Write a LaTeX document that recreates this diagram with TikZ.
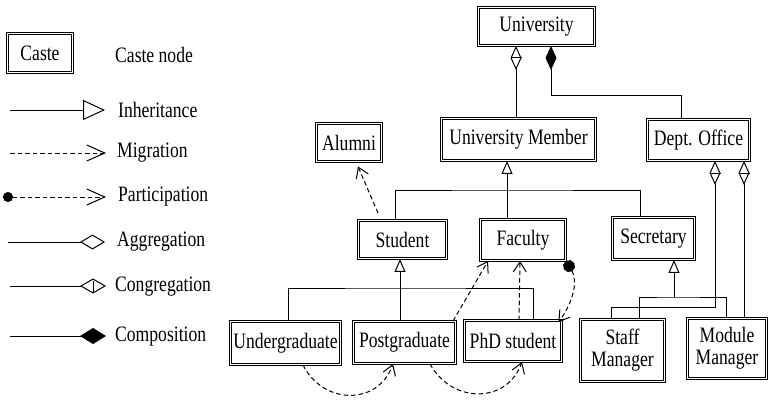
\documentclass[tikz,border=0pt]{standalone}
\usepackage{fontspec}
\setmainfont{Liberation Serif}[FakeStretch=0.8]
\usetikzlibrary{arrows.meta}

\begin{document}
\begin{tikzpicture}[x=1pt,y=-1pt,
  every node/.style={font=\fontsize{22}{22}\selectfont},
  caste/.style={draw, double, double distance=1.3pt, line width=0.9pt,
    inner sep=0pt, align=center},
  lbl/.style={anchor=west, inner sep=0pt},
  link/.style={line width=1pt},
  mig/.style={line width=1pt, dash pattern=on 4.5pt off 3pt},
  inh/.style={-{Triangle[open,length=13pt,width=11pt]}},
  cong/.style={{Diamond[open,length=24pt,width=11pt]}-},
  comp/.style={{Diamond[length=24pt,width=11pt]}-},
  migtip/.style={-{Straight Barb[length=10pt,width=13pt]}},
  cbar/.pic={\draw[line width=1pt] (-5.5,0) -- (5.5,0);},
]
\useasboundingbox (0,0) rectangle (768,399);
\fill[white] (0,0) rectangle (768,399);

% ---------- legend ----------
\node[caste, minimum width=65pt, minimum height=39pt] (legcaste) at (40,53) {Caste};
\node[lbl] (legcastetxt) at (115,55) {Caste node};

\coordinate (li1) at (10,110);  \coordinate (li2) at (105,110);
\draw[link, -{Triangle[open,length=22pt,width=20pt]}] (li1) -- (li2);
\node[lbl] (leginh) at (118,110) {Inheritance};

\coordinate (lm1) at (10,153);  \coordinate (lm2) at (106,153);
\draw[mig, -{Straight Barb[length=18pt,width=16pt]}] (lm1) -- (lm2);
\node[lbl] (legmig) at (117,153) {Migration};

\coordinate (lp1) at (3,197);  \coordinate (lp2) at (106,197);
\draw[mig, {Circle[length=10pt]}-{Straight Barb[length=18pt,width=16pt]}] (lp1) -- (lp2);
\node[lbl] (legpart) at (118,197) {Participation};

\coordinate (la1) at (8,242);  \coordinate (la2) at (105,242);
\draw[link, -{Diamond[open,length=25pt,width=15pt]}] (la1) -- (la2);
\node[lbl] (legagg) at (117,242) {Aggregation};

\coordinate (lc1) at (10,286);  \coordinate (lc2) at (106,286);
\draw[link, -{Diamond[open,length=26pt,width=15pt]}] (lc1) -- (lc2);
\pic[rotate=90] at (93,286) {cbar};
\node[lbl] (legcong) at (115,287) {Congregation};

\coordinate (lo1) at (10,336);  \coordinate (lo2) at (106,336);
\draw[link, -{Diamond[length=26pt,width=16pt]}] (lo1) -- (lo2);
\node[lbl] (legcomp) at (115,337) {Composition};

% ---------- castes ----------
\node[caste, minimum width=116pt, minimum height=38pt] (university) at (536.5,26.5) {University};
\node[caste, minimum width=154pt, minimum height=42pt] (member) at (518.5,139.5) {University Member};
\node[caste, minimum width=65pt, minimum height=38pt] (alumni) at (349,142.5) {Alumni};
\node[caste, minimum width=102pt, minimum height=41pt] (dept) at (698.5,140) {Dept. Office};
\node[caste, minimum width=88pt, minimum height=38pt] (student) at (402.5,239.5) {Student};
\node[caste, minimum width=85pt, minimum height=41pt] (faculty) at (523,240) {Faculty};
\node[caste, minimum width=82pt, minimum height=42pt] (secretary) at (653.5,238.5) {Secretary};
\node[caste, minimum width=110pt, minimum height=43pt] (under) at (285.5,343) {Undergraduate};
\node[caste, minimum width=102pt, minimum height=42pt] (post) at (404.5,342.5) {Postgraduate};
\node[caste, minimum width=97pt, minimum height=41pt] (phd) at (513,341) {PhD student};
\node[caste, minimum width=84pt, minimum height=62pt] (staff) at (622.5,350.5) {Staff\\Manager};
\node[caste, minimum width=79pt, minimum height=60pt] (module) at (727,348.5) {Module\\Manager};

% ---------- university level ----------
\draw[link, cong] ([xshift=-20.5pt]university.south) -- ([xshift=-2.5pt]member.north);
\pic at ([xshift=-20.5pt,yshift=-12pt]university.south) {cbar};
\draw[link, comp] ([xshift=14.5pt]university.south) -- ++(0,50) -| ([xshift=-17.5pt]dept.north);

% ---------- members ----------
\coordinate (busM) at (507,190);
\draw[link, inh] ([xshift=-16pt]faculty.north) -- ([xshift=-11.5pt]member.south);
\draw[link] ([xshift=-7.5pt]student.north) |- (busM) -| ([xshift=-13.5pt]secretary.north);
\draw[mig, migtip] ([xshift=-24.5pt,yshift=7pt]student.north) -- ([xshift=9pt,yshift=-4.5pt]alumni.south);

% ---------- students ----------
\coordinate (busS) at (400,288);
\draw[link, inh] ([xshift=-4.5pt]post.north) -- ([xshift=-2.5pt]student.south);
\draw[link] ([xshift=2.5pt]under.north) |- (busS) -| ([xshift=20pt]phd.north);

\draw[mig, migtip] ([xshift=48.5pt]post.north) -- ([xshift=-35pt]faculty.south);
\draw[mig, migtip] ([xshift=6pt]phd.north) -- ([xshift=-3pt]faculty.south);
\draw[mig, {Circle[length=12pt]}-{Straight Barb[length=10pt,width=13pt]}]
  (faculty.south east) .. controls +(12,20) and +(15,-20) .. ([xshift=-3.5pt,yshift=-2pt]phd.north east);

\draw[mig, migtip] ([xshift=17.5pt]under.south) .. controls +(20,40) and +(-15,42) .. ([xshift=-11.5pt]post.south);
\draw[mig, migtip] ([xshift=25.5pt]post.south) .. controls +(22,40) and +(-15,42) .. ([xshift=9pt]phd.south);

% ---------- office staff ----------
\coordinate (busT) at (674,297);
\draw[link, inh] (busT) -- ([xshift=20.5pt]secretary.south);
\draw[link] ([xshift=16.5pt]staff.north) |- (busT) -| ([xshift=-1pt]module.north);

\draw[link, cong] ([xshift=16.5pt]dept.south) -- ++(0,146.5) -| ([xshift=-11.5pt]staff.north);
\pic at ([xshift=16.5pt,yshift=-12.5pt]dept.south) {cbar};
\draw[link, cong] ([xshift=45.5pt]dept.south) -- ([xshift=17pt]module.north);
\pic at ([xshift=45.5pt,yshift=-12.5pt]dept.south) {cbar};
\end{tikzpicture}
\end{document}
